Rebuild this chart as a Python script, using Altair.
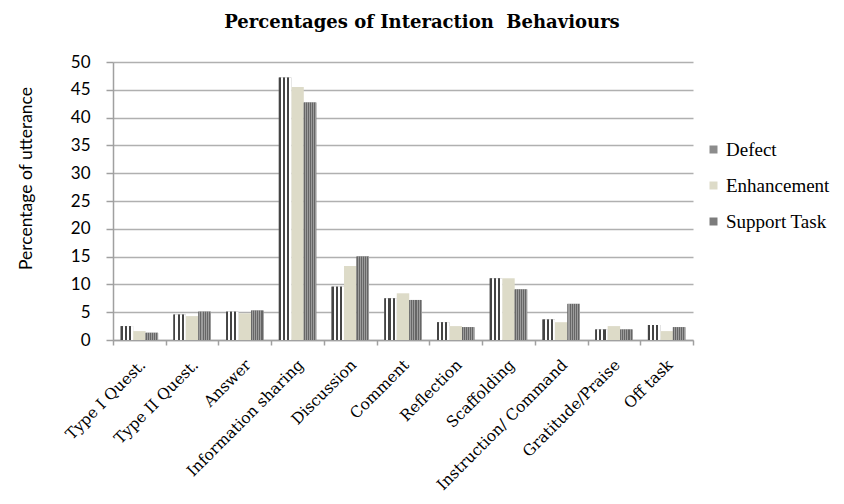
import altair as alt
import pandas as pd

categories = ["Type I Quest.", "Type II Quest.", "Answer", "Information sharing",
              "Discussion", "Comment", "Reflection", "Scaffolding",
              "Instruction/ Command", "Gratitude/Praise", "Off task"]
series = ["Defect", "Enhancement", "Support Task"]
defect = [2.5, 4.6, 5.1, 47.2, 9.6, 7.5, 3.2, 11.1, 3.7, 1.9, 2.7]
enhancement = [1.6, 4.3, 4.8, 45.5, 13.3, 8.4, 2.5, 11.1, 3.2, 2.5, 1.6]
support = [1.3, 5.1, 5.3, 42.7, 15.0, 7.2, 2.3, 9.1, 6.5, 1.9, 2.3]
y_ticks = [0, 5, 10, 15, 20, 25, 30, 35, 40, 45, 50]

rows = []
for i, c in enumerate(categories):
    rows.append({"cat": c, "series": "Defect", "value": defect[i]})
    rows.append({"cat": c, "series": "Enhancement", "value": enhancement[i]})
    rows.append({"cat": c, "series": "Support Task", "value": support[i]})
df = pd.DataFrame(rows)


def stripes(n, c_on, c_off, frac=0.5):
    stops = []
    for k in range(n):
        a = k / n
        b = (k + frac) / n
        e = (k + 1) / n
        stops += [{"offset": a, "color": c_on}, {"offset": b, "color": c_on},
                  {"offset": b, "color": c_off}, {"offset": e, "color": c_off}]
    return {"gradient": "linear", "x1": 0, "y1": 0, "x2": 1, "y2": 0, "stops": stops}


hatch = stripes(3, "#444444", "#ffffff", 0.5)
checker = stripes(6, "#666666", "#9c9c9c", 0.5)

x_enc = alt.X("cat:N", sort=categories,
              scale=alt.Scale(paddingInner=0, paddingOuter=0),
              axis=alt.Axis(title=None, labelAngle=-45, labelAlign="right",
                            labelBaseline="middle", labelFont="DejaVu Serif",
                            labelFontSize=15.5, labelColor="#000000", labelLimit=400,
                            tickBand="extent", tickColor="#a0a0a0", tickSize=5,
                            domainColor="#a0a0a0", domainWidth=1.5, tickWidth=1.5,
                            labelPadding=17, labelOffset=3, grid=False))
xo_enc = alt.XOffset("series:N", sort=series,
                     scale=alt.Scale(domain=series, paddingInner=0, paddingOuter=0.61))
y_enc = alt.Y("value:Q", scale=alt.Scale(domain=[0, 50], nice=False),
              axis=alt.Axis(values=y_ticks, title="Percentage of utterance",
                            titleFont="Lato", titleFontSize=17.5, titleFontWeight="normal",
                            titleColor="#000000", titleX=-87, titleY=116,
                            titleAlign="center", titleBaseline="middle",
                            labelFont="Lato", labelFontSize=17, labelColor="#000000",
                            labelPadding=16, tickSize=7, tickColor="#a0a0a0",
                            tickWidth=1.5, domainColor="#a0a0a0", domainWidth=1.5,
                            gridColor="#b0b0b0", gridWidth=1.5))

base = alt.Chart(df)

bars = base.mark_bar().encode(
    x=x_enc, xOffset=xo_enc, y=y_enc,
    color=alt.Color("series:N", sort=series,
                    scale=alt.Scale(domain=series, range=["#8c8c8c", "#dddbc8", "#7c7c7c"]),
                    legend=alt.Legend(title=None, orient="none", legendX=591, legendY=78,
                                      labelFont="Liberation Serif", labelFontSize=19,
                                      labelColor="#000000", symbolType="square",
                                      symbolSize=64, symbolStrokeWidth=0,
                                      rowPadding=16, labelOffset=3)),
)

defect_layer = base.transform_filter(alt.datum.series == "Defect").mark_bar(
    fill=hatch).encode(x=x_enc, xOffset=xo_enc, y=y_enc)
support_layer = base.transform_filter(alt.datum.series == "Support Task").mark_bar(
    fill=checker).encode(x=x_enc, xOffset=xo_enc, y=y_enc)

chart = alt.layer(bars, defect_layer, support_layer).properties(
    width=580, height=278,
    autosize=alt.AutoSizeParams(type="none"),
    padding={"left": 105, "top": 54, "right": 143, "bottom": 156},
    title=alt.TitleParams("Percentages of Interaction\u00a0 Behaviours",
                          font="DejaVu Serif", fontSize=18, fontWeight="bold",
                          color="#000000", anchor="middle", dx=19, offset=21),
    background="white",
).configure_view(stroke=None)

chart.save("out.html", embed_options={"renderer": "svg", "actions": False})
